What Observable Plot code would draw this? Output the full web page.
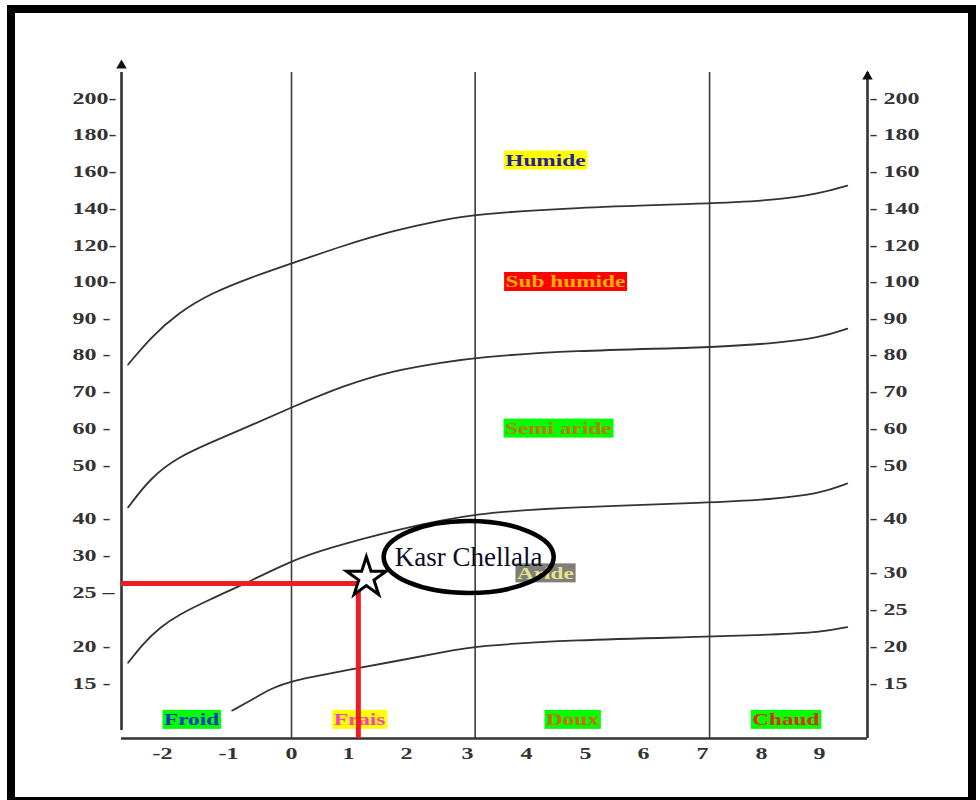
<!DOCTYPE html>
<html><head><meta charset="utf-8">
<script src="https://cdn.jsdelivr.net/npm/d3@7"></script>
<script src="https://cdn.jsdelivr.net/npm/@observablehq/plot@0.6"></script>
<style>
html,body{margin:0;padding:0;background:#fff;}
#wrap{position:relative;width:980px;height:800px;overflow:hidden;background:#fff;}
#chart svg{display:block;}
#border{position:absolute;left:7px;top:5px;width:969px;height:800px;box-sizing:border-box;border:8px solid #000;pointer-events:none;}
</style></head>
<body><div id="wrap"><div id="chart"></div><div id="border"></div></div>
<script>
// ---------- data ----------
const xMin = -2.62, xMax = 9.83;           // extent of the m axis (°C)
const yMin = 7.57, yMax = 214.2;           // extent of the Q2 axis
const xTickValues = [-2, -1, 0, 1, 2, 3, 4, 5, 6, 7, 8, 9];
const xTickLabels = ["-2", "-1", "0", "1", "2", "3", "4", "5", "6", "7", "8", "9"];
const yTickValues = [15, 20, 25, 30, 40, 50, 60, 70, 80, 90, 100, 120, 140, 160, 180, 200];
const yTickLabelsLeft = ["15 -", "20 -", "25 –", "30 -", "40 -", "50 -", "60 -", "70 -", "80 -", "90 -", "100-", "120-", "140-", "160-", "180-", "200-"];
const yTickLabelsRight = ["- 15", "- 20", "- 25", "- 30", "- 40", "- 50", "- 60", "- 70", "- 80", "- 90", "- 100", "- 120", "- 140", "- 160", "- 180", "- 200"];
// right-hand axis ticks as drawn (its 25 and 30 sit lower than on the left axis)
const yTickValuesRight = [15, 20, 23.4, 27.6, 40, 50, 60, 70, 80, 90, 100, 120, 140, 160, 180, 200];

const separators = [0, 3.13, 7.12];   // vertical limits between thermal variants

// bioclimatic boundary curves [m, Q2]
const humideSubhumide = [[-2.52,77.3],[-2.18,84.7],[-1.77,91.4],[-1.27,96.8],[-0.65,102.2],[0,110],[0.91,120],[1.78,128.1],[2.61,134],[3.14,136.8],[4.75,140.5],[7.12,142.7],[8.16,144.3],[9.02,148.1],[9.48,152.4]];
const subhumideSemiaride = [[-2.52,42.1],[-2.18,47.7],[-1.77,52.2],[-1.27,56.2],[-0.65,60.8],[0,65.7],[0.91,71.6],[1.78,75.7],[2.61,77.9],[3.14,79.2],[4.75,81.1],[7.12,81.9],[8.16,83.0],[9.02,84.7],[9.48,87.2]];
const semiarideAride = [[-2.52,17.8],[-2.29,20.3],[-2.03,21.8],[-1.77,22.9],[-1.27,24.4],[-0.76,26.1],[0,29.3],[0.63,31.9],[1.78,36.8],[3.14,41.1],[4.75,42.1],[7.12,43.0],[8.16,43.6],[9.02,44.7],[9.48,46.6]];
const arideSaharien = [[-0.94,11.35],[-0.65,12.7],[-0.33,14.3],[0,15.4],[0.91,16.7],[1.78,17.97],[2.61,19.26],[3.14,20.05],[4.75,20.6],[7.12,20.9],[8.16,21.1],[9.02,21.3],[9.48,21.8]];

// zone (bioclimate) labels
const zoneNames = ["Humide", "Sub humide", "Semi aride", "Aride"];
const zoneM = [4.32, 4.66, 4.54, 4.32];
const zoneQ = [166, 99.9, 60, 27.6];
const zoneText = ["#2a1f9a", "#ffb400", "#b97a00", "#e6e38a"];
const zoneBg = ["#ffff00", "#ff0000", "#00ff00", "#7f7f78"];

// thermal variant labels
const thermNames = ["Froid", "Frais", "Doux", "Chaud"];
const thermM = [-1.56, 1.19, 4.78, 8.42];
const thermQ = [10.1, 10.1, 10.1, 10.1];
const thermText = ["#1436c8", "#ff3cc8", "#d06a00", "#e02a00"];
const thermBg = ["#00ff00", "#ffff00", "#00ff00", "#00ff00"];

// station
const stationName = "Kasr Chellala";
const stationM = 1.17, stationQ = 26.2;
const stationLabelM = 3.02, stationLabelQ = 29.8;

// ---------- layout ----------
const xRange = [121, 162, 228, 291, 348, 406, 467, 526, 585, 643, 702, 761, 819, 867];
const yRange = [738, 683, 646, 592, 555, 518, 465, 428, 391, 354, 318, 281, 245, 208, 171, 134, 98, 72];

const leftLabel = new Map(yTickValues.map((v, i) => [v, yTickLabelsLeft[i]]));
const rightLabel = new Map(yTickValuesRight.map((v, i) => [v, yTickLabelsRight[i]]));
const xLabel = new Map(xTickValues.map((v, i) => [v, xTickLabels[i]]));

const ellipseSymbol = {
  draw(ctx) {
    const rx = 85, ry = 36, k = 0.5522847498;
    ctx.moveTo(rx, 0);
    ctx.bezierCurveTo(rx, ry * k, rx * k, ry, 0, ry);
    ctx.bezierCurveTo(-rx * k, ry, -rx, ry * k, -rx, 0);
    ctx.bezierCurveTo(-rx, -ry * k, -rx * k, -ry, 0, -ry);
    ctx.bezierCurveTo(rx * k, -ry, rx, -ry * k, rx, 0);
    ctx.closePath();
  }
};

const curves = [humideSubhumide, subhumideSemiaride, semiarideAride, arideSaharien];
const zi = zoneNames.map((_, i) => i);
const ti = thermNames.map((_, i) => i);
const axisColor = "#333";
const red = "#ee1c24";

const chart = Plot.plot({
  width: 980, height: 800,
  marginLeft: 121, marginRight: 113, marginTop: 72, marginBottom: 62,
  style: {fontFamily: "'Liberation Serif', 'Times New Roman', serif", fontSize: "16px", background: "transparent"},
  x: {type: "linear", domain: [xMin, ...xTickValues, xMax], range: xRange},
  y: {type: "linear", domain: [yMin, ...yTickValues, yMax], range: yRange},
  color: {type: "identity"},
  marks: [
    Plot.ruleX(separators, {y1: yMin, y2: yMax, stroke: "#3c3c3c", strokeWidth: 1.6}),
    ...curves.map(c => Plot.line(c, {x: d => d[0], y: d => d[1], curve: "basis", stroke: "#333", strokeWidth: 1.8})),
    // axis lines with arrows
    Plot.ruleX([xMin], {y1: yMin, y2: yMax, insetTop: -8, stroke: axisColor, strokeWidth: 2.6}),
    Plot.ruleX([xMax], {y1: yMin, y2: yMax, stroke: axisColor, strokeWidth: 2.6}),
    Plot.ruleY([yMin], {x1: xMin, x2: xMax, stroke: axisColor, strokeWidth: 2.6}),
    Plot.dot([xMin], {x: d => d, y: yMax, dy: -7, symbol: "triangle", r: 3.9, fill: "#111", stroke: null}),
    Plot.dot([xMax], {x: d => d, y: yMax, dy: 4, symbol: "triangle", r: 3.9, fill: "#111", stroke: null}),
    Plot.axisY({ticks: yTickValues, anchor: "left", tickSize: 0, tickPadding: 49, textAnchor: "start", tickFormat: d => leftLabel.get(d), fill: "#333", fontWeight: "bold", label: null}),
    Plot.axisY({ticks: yTickValuesRight, anchor: "right", tickSize: 0, tickPadding: 2, textAnchor: "start", tickFormat: d => rightLabel.get(d), fill: "#333", fontWeight: "bold", label: null}),
    Plot.axisX({ticks: xTickValues, anchor: "bottom", tickSize: 0, tickPadding: 9, tickFormat: d => xLabel.get(d), fill: "#333", fontWeight: "bold", label: null}),
    // labels
    Plot.text(zi, {x: i => zoneM[i], y: i => zoneQ[i], text: i => zoneNames[i], fill: i => zoneText[i], fontSize: 17.5, fontWeight: "bold"}),
    Plot.text(ti, {x: i => thermM[i], y: i => thermQ[i], text: i => thermNames[i], fill: i => thermText[i], fontSize: 17.5, fontWeight: "bold"}),
    // station projection lines
    Plot.ruleY([stationQ], {x1: xMin, x2: stationM, stroke: red, strokeWidth: 5}),
    Plot.ruleX([stationM], {y1: yMin, y2: stationQ, stroke: red, strokeWidth: 5}),
    // station label
    Plot.dot([0], {x: stationLabelM, y: stationLabelQ, symbol: ellipseSymbol, fill: "none", stroke: "#000", strokeWidth: 4.6}),
    Plot.text([stationName], {x: stationLabelM, y: stationLabelQ, text: d => d, fontSize: 27, fill: "#0c0c26", fontWeight: "normal"}),
    Plot.dot([0], {x: stationM, y: stationQ, dx: 8, dy: -6, symbol: "star", r: 12.5, fill: "#fff", stroke: "#000", strokeWidth: 3})
  ]
});

document.getElementById("chart").append(chart);

function stretchText(t, f) {
  const w = t.getComputedTextLength();
  if (w > 0) {
    t.setAttribute("textLength", (w * f).toFixed(1));
    t.setAttribute("lengthAdjust", "spacingAndGlyphs");
  }
}
chart.querySelectorAll('g[aria-label$="tick label"] text').forEach(t => stretchText(t, 1.5));

const bgByName = new Map([
  ...zoneNames.map((n, i) => [n, zoneBg[i]]),
  ...thermNames.map((n, i) => [n, thermBg[i]])
]);
Array.from(chart.querySelectorAll("text")).forEach(t => {
  const name = t.textContent.trim();
  if (!bgByName.has(name)) return;
  stretchText(t, 1.33);
  const b = t.getBBox();
  const r = document.createElementNS("http://www.w3.org/2000/svg", "rect");
  r.setAttribute("x", b.x - 1.5);
  r.setAttribute("y", b.y + 0.5);
  r.setAttribute("width", b.width + 3);
  r.setAttribute("height", b.height - 1);
  r.setAttribute("fill", bgByName.get(name));
  const tr = t.getAttribute("transform");
  if (tr) r.setAttribute("transform", tr);
  t.parentNode.insertBefore(r, t);
});
</script>
</body></html>
